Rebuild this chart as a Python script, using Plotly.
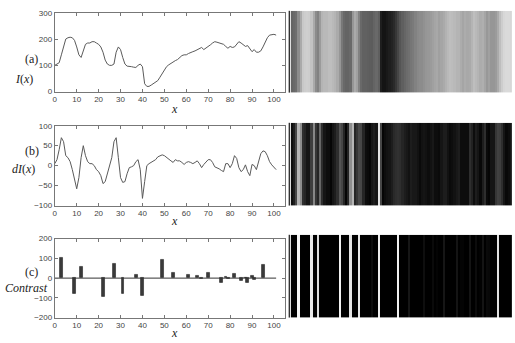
import plotly.graph_objects as go

W, H = 515, 343

x_vals = list(range(0, 102))
I_vals = [100, 105, 110, 140, 170, 200, 205, 207, 205, 195, 170, 140, 130, 155, 180, 185, 185, 190, 190, 185,
          180, 170, 150, 120, 105, 100, 100, 105, 150, 170, 160, 130, 105, 97, 97, 95, 93, 92, 100, 105,
          95, 30, 20, 20, 25, 30, 35, 42, 55, 70, 85, 95, 102, 108, 112, 118, 122, 130, 137, 140,
          140, 145, 150, 152, 155, 160, 165, 168, 160, 165, 170, 178, 185, 190, 188, 185, 180, 180, 172, 165,
          172, 168, 170, 180, 190, 185, 180, 172, 175, 165, 152, 160, 150, 150, 155, 170, 190, 205, 215, 218,
          218, 215]
dI_vals = [5, 15, 40, 70, 60, 25, 20, 10, -10, -35, -58, -30, 20, 50, 25, 10, 5, 5, 0, -10,
           -15, -25, -45, -40, -20, 0, 20, 60, 70, 20, -30, -42, -40, -20, -5, -3, 0, 10, 15, -10,
           -82, -40, 0, 5, 8, 10, 15, 22, 25, 27, 25, 20, 15, 12, 8, 15, 12, 12, 8, 3,
           8, 10, 8, 5, 8, 12, 5, -5, 3, 10, 15, 15, 8, -3, -5, -8, -12, -15, 5, 5,
           -5, 5, 25, 18, -5, -15, -10, 2, -15, -25, 3, 0, -10, 10, 30, 37, 35, 25, 10, 2,
           -5, -10]
bar_x = [3, 9, 12, 22, 27, 31, 37, 40, 49, 54, 61, 65, 67, 70, 76, 78, 79, 82, 85, 87, 88, 90, 91, 95]
bar_c = [105, -80, 60, -95, 75, -80, 15, -88, 93, 28, 18, 12, -5, 28, -25, 5, -5, 25, -15, 3, -25, 12, -10, 68]

x_ticks = list(range(0, 101, 10))
ya_ticks = [0, 100, 200, 300]
yb_ticks = [-100, -50, 0, 50, 100]
yc_ticks = [-200, -100, 0, 100, 200]

contrast_full = [0] * len(x_vals)
for bx, bc in zip(bar_x, bar_c):
    contrast_full[bx] = abs(bc)
abs_dI = [abs(v) for v in dI_vals]


def px(v):
    return v / W


def py(v):
    return 1 - v / H


fig = go.Figure()

line_col = "#5a5a5a"
fig.add_trace(go.Scatter(x=x_vals, y=I_vals, mode="lines", line=dict(color=line_col, width=1),
                         xaxis="x", yaxis="y", showlegend=False))
fig.add_trace(go.Scatter(x=x_vals, y=dI_vals, mode="lines", line=dict(color=line_col, width=1),
                         xaxis="x2", yaxis="y2", showlegend=False))
fig.add_trace(go.Scatter(x=[0, 101], y=[0, 0], mode="lines", line=dict(color="#333", width=1),
                         xaxis="x3", yaxis="y3", showlegend=False))
fig.add_trace(go.Bar(x=bar_x, y=bar_c, width=1.3, marker=dict(color="#3a3a3a", line=dict(color="#111", width=0.5)),
                     xaxis="x3", yaxis="y3", showlegend=False))

# image strips
fig.add_trace(go.Heatmap(x=x_vals, y=[0], z=[I_vals], zmin=0, zmax=255,
                         colorscale=[[0, "black"], [1, "white"]], showscale=False,
                         xaxis="x4", yaxis="y4"))
fig.add_trace(go.Heatmap(x=x_vals, y=[0], z=[abs_dI], zmin=0, zmax=85,
                         colorscale=[[0, "#050505"], [0.5, "#4a4a4a"], [1, "#f0f0f0"]], showscale=False,
                         xaxis="x5", yaxis="y5"))
fig.add_trace(go.Heatmap(x=x_vals, y=[0], z=[contrast_full], zmin=0, zmax=100,
                         colorscale=[[0, "#000000"], [0.35, "#1c1c1c"], [0.6, "#dcdcdc"], [1, "#f4f4f4"]],
                         showscale=False, xaxis="x6", yaxis="y6"))

tick_font = dict(family="Liberation Sans Narrow, Liberation Sans, Arial", size=8, color="#444")
common_x = dict(range=[0, 105], tickvals=x_ticks, ticks="inside", ticklen=3, mirror="ticks",
                showline=True, linecolor="#777", linewidth=1, tickcolor="#777", showgrid=False,
                zeroline=False, tickfont=tick_font, domain=[px(53), px(284)])
common_y = dict(ticks="inside", ticklen=3, mirror="ticks", showline=True, linecolor="#777", linewidth=1,
                tickcolor="#777", showgrid=False, zeroline=False, tickfont=tick_font)

hm_x = dict(domain=[px(290), px(512)], range=[-0.5, 101.5], visible=False)
hm_y = dict(range=[-0.5, 0.5], visible=False)

fig.update_layout(
    width=W, height=H, margin=dict(l=0, r=0, t=0, b=0),
    paper_bgcolor="white", plot_bgcolor="white", bargap=0,
    xaxis=dict(anchor="y", **common_x),
    yaxis=dict(anchor="x", domain=[py(90), py(9)], range=[0, 300], tickvals=ya_ticks, **common_y),
    xaxis2=dict(anchor="y2", **common_x),
    yaxis2=dict(anchor="x2", domain=[py(207), py(125)], range=[-100, 100], tickvals=yb_ticks, **common_y),
    xaxis3=dict(anchor="y3", **common_x),
    yaxis3=dict(anchor="x3", domain=[py(322), py(241)], range=[-200, 200], tickvals=yc_ticks, **common_y),
    xaxis4=dict(anchor="y4", **hm_x),
    yaxis4=dict(anchor="x4", domain=[py(91), py(7)], **hm_y),
    xaxis5=dict(anchor="y5", **hm_x),
    yaxis5=dict(anchor="x5", domain=[py(207), py(122)], **hm_y),
    xaxis6=dict(anchor="y6", **hm_x),
    yaxis6=dict(anchor="x6", domain=[py(322), py(237)], **hm_y),
)

serif = "Liberation Serif, Times New Roman, serif"
annots = [
    ("(a)", 30, 56, "center"), ("<i>I</i>(<i>x</i>)", 22, 77, "center"),
    ("(b)", 30, 151, "center"), ("<i>dI</i>(<i>x</i>)", 22, 169, "center"),
    ("(c)", 30, 275, "center"), ("<i>Contrast</i>", 1, 292, "left"),
    ("<i>x</i>", 173, 108, "center"), ("<i>x</i>", 173, 223, "center"), ("<i>x</i>", 173, 338, "center"),
]
for txt, ax_, ay_, anc in annots:
    fig.add_annotation(text=txt, x=px(ax_), y=py(ay_), xref="paper", yref="paper", showarrow=False,
                       font=dict(family=serif, size=12, color="#222"), xanchor=anc, yanchor="middle")

# dark left edge lines of the image strips
for y0, y1 in [(7, 91), (122, 207), (237, 322)]:
    fig.add_shape(type="line", xref="paper", yref="paper", x0=px(288.5), x1=px(288.5), y0=py(y1), y1=py(y0),
                  line=dict(color="#333", width=1.5))

fig.write_html("out.html")
